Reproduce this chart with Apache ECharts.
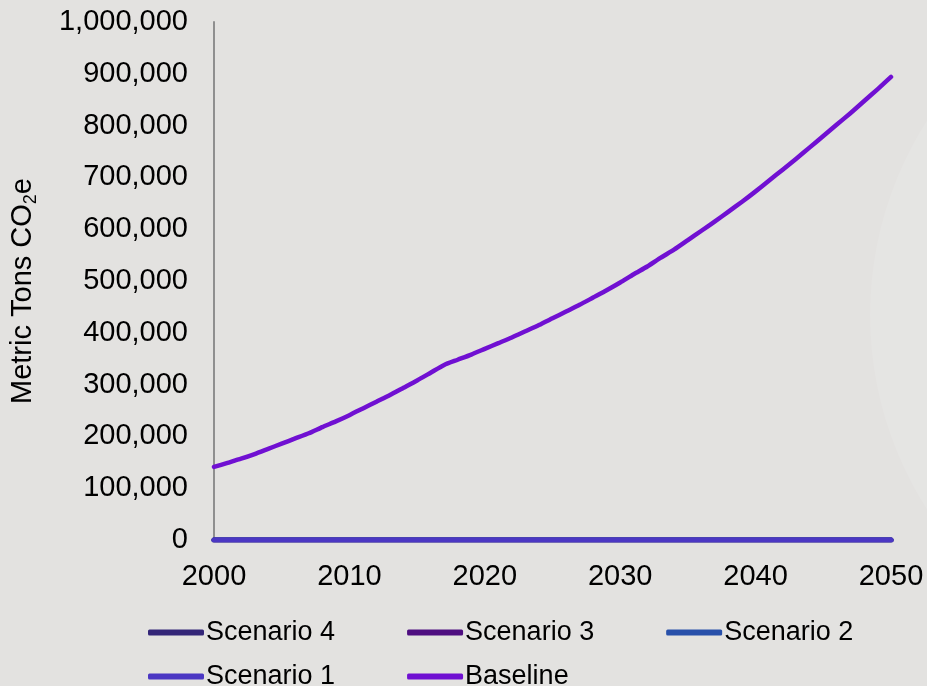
<!DOCTYPE html>
<html>
<head>
<meta charset="utf-8">
<script src="https://cdn.jsdelivr.net/npm/echarts@6/dist/echarts.min.js"></script>
<style>
  html, body { margin: 0; padding: 0; background: #e3e2e0; }
  #chart { width: 927px; height: 686px; }
</style>
</head>
<body>
<div id="chart"></div>
<script>
// ---- data ----
const years = [2000,2001,2002,2003,2004,2005,2006,2007,2008,2009,
  2010,2011,2012,2013,2014,2015,2016,2017,2018,2019,
  2020,2021,2022,2023,2024,2025,2026,2027,2028,2029,
  2030,2031,2032,2033,2034,2035,2036,2037,2038,2039,
  2040,2041,2042,2043,2044,2045,2046,2047,2048,2049,2050];

const baseline = [141000,149000,157000,166000,176000,186000,196000,206000,218000,229000,
  241000,254000,267000,280000,294000,308000,323000,338000,348000,358000,
  369000,380000,391000,403000,415000,428000,441000,454000,468000,482000,
  497000,513000,528000,545000,561000,579000,597000,615000,634000,653000,
  673000,694000,715000,736000,758000,780000,802000,824000,847000,870000,894000];

const scenario1 = [0,0,0,0,0,0,0,0,0,0,0,0,0,0,0,0,0,0,0,0,0,0,0,0,0,0,0,0,0,0,0,0,0,0,0,0,0,0,0,0,0,0,0,0,0,0,0,0,0,0,0];
const scenario2 = [0,0,0,0,0,0,0,0,0,0,0,0,0,0,0,0,0,0,0,0,0,0,0,0,0,0,0,0,0,0,0,0,0,0,0,0,0,0,0,0,0,0,0,0,0,0,0,0,0,0,0];
const scenario3 = [0,0,0,0,0,0,0,0,0,0,0,0,0,0,0,0,0,0,0,0,0,0,0,0,0,0,0,0,0,0,0,0,0,0,0,0,0,0,0,0,0,0,0,0,0,0,0,0,0,0,0];
const scenario4 = [0,0,0,0,0,0,0,0,0,0,0,0,0,0,0,0,0,0,0,0,0,0,0,0,0,0,0,0,0,0,0,0,0,0,0,0,0,0,0,0,0,0,0,0,0,0,0,0,0,0,0];

const seriesNames = ['Scenario 4','Scenario 3','Scenario 2','Scenario 1','Baseline'];
const seriesValues = [scenario4, scenario3, scenario2, scenario1, baseline];
const seriesColors = ['#342678','#4e0e80','#2850aa','#4b37c3','#7010d2'];

const xMin = 2000, xMax = 2050, xStep = 10;
const yMin = 0, yMax = 1000000, yStep = 100000;
const yTitle = 'Metric Tons CO';

// ---- chart ----
const chart = echarts.init(document.getElementById('chart'), null, { renderer: 'canvas' });
const font = 'Liberation Sans, Arial, Helvetica, sans-serif';

const series = seriesNames.map((name, i) => ({
  name: name,
  type: 'line',
  data: years.map((y, k) => [y, seriesValues[i][k]]),
  showSymbol: false,
  symbol: 'none',
  smooth: i === 4 ? 0.2 : false,
  lineStyle: { color: seriesColors[i], width: i === 4 ? 4.5 : 5, cap: 'round', join: 'round' },
  itemStyle: { color: seriesColors[i] },
  z: 3 + i
}));

const legendCommon = {
  icon: 'roundRect',
  itemWidth: 56,
  itemHeight: 6,
  itemGap: 72,
  left: 148,
  padding: 0,
  orient: 'horizontal',
  textStyle: { fontFamily: font, fontSize: 27, color: '#000', padding: [0, 0, 0, -3] },
  selectedMode: false
};

chart.setOption({
  backgroundColor: '#e3e2e0',
  animation: false,
  graphic: [{
    type: 'circle',
    shape: { cx: 1230, cy: 315, r: 360 },
    style: { fill: 'rgba(255,255,255,0.1)' },
    z: -10,
    silent: true
  }],
  grid: { left: 214, right: 36, top: 22, bottom: 146, containLabel: false, outerBoundsMode: 'none' },
  legend: [
    Object.assign({}, legendCommon, { data: seriesNames.slice(0, 3), top: 619 }),
    Object.assign({}, legendCommon, { data: seriesNames.slice(3), top: 663 })
  ],
  xAxis: {
    type: 'value',
    min: xMin, max: xMax, interval: xStep,
    axisLine: { show: true, lineStyle: { color: '#8f8f8f', width: 2 } },
    axisTick: { show: false },
    splitLine: { show: false },
    axisLabel: {
      margin: 22, fontFamily: font, fontSize: 29, color: '#000',
      formatter: v => String(v)
    }
  },
  yAxis: {
    type: 'value',
    min: yMin, max: yMax, interval: yStep,
    name: yTitle + '{sub|2}e',
    nameLocation: 'middle',
    nameGap: 174,
    nameRotate: 90,
    nameTextStyle: {
      fontFamily: font, fontSize: 29, color: '#000', lineHeight: 34,
      padding: [0, 20, 0, 0],
      rich: {
        sub: { fontFamily: font, fontSize: 18, color: '#000', lineHeight: 18, verticalAlign: 'bottom' }
      }
    },
    axisLine: { show: true, lineStyle: { color: '#8f8f8f', width: 2 } },
    axisTick: { show: false },
    splitLine: { show: false },
    axisLabel: {
      margin: 26, fontFamily: font, fontSize: 29, color: '#000',
      formatter: v => v.toLocaleString('en-US')
    }
  },
  series: series
});
</script>
</body>
</html>
